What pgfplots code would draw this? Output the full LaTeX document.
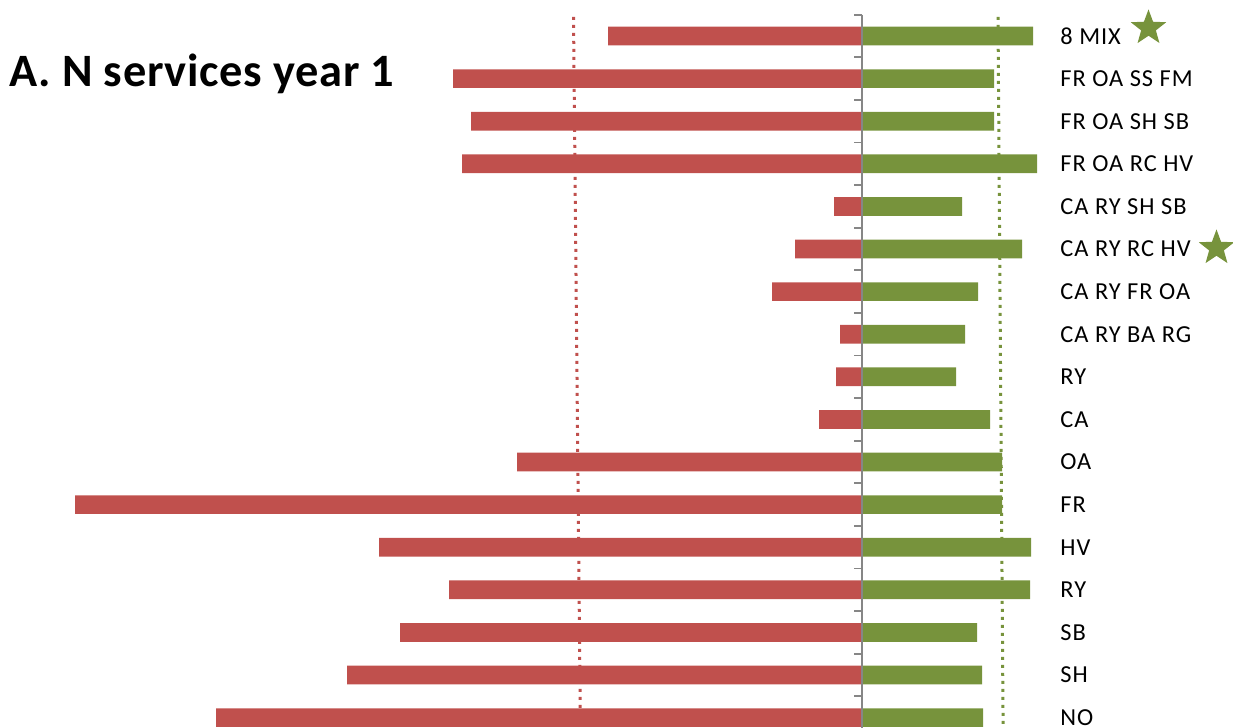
\documentclass[border=0pt]{standalone}
\usepackage{pgfplots}
\pgfplotsset{compat=1.18}
\usepackage{fontspec}
\setmainfont{Carlito}
\newfontfamily\labfont[LetterSpace=4]{Carlito}
\newfontfamily\titfont[LetterSpace=1.5]{Carlito}
\usetikzlibrary{shapes.geometric}
\definecolor{barred}{HTML}{C0504D}
\definecolor{bargreen}{HTML}{77933C}
\definecolor{axisgray}{HTML}{868686}

\begin{document}
\begin{tikzpicture}
\begin{axis}[
  scale only axis,
  width=529pt, height=362.1pt,
  xmin=-8.62, xmax=1.96,
  ymin=0.5, ymax=17.5,
  y dir=reverse,
  axis line style={draw=none},
  xtick=\empty,
  ytick={1,...,17},
  yticklabels={8 MIX, FR OA SS FM, FR OA SH SB, FR OA RC HV, CA RY SH SB,
    CA RY RC HV, CA RY FR OA, CA RY BA RG, RY, CA, OA, FR, HV, RY, SB, SH, NO},
  yticklabel pos=right,
  major tick length=0pt,
  yticklabel style={anchor=west, inner sep=0pt, xshift=1pt,
    font=\labfont\fontsize{12.2}{14}\selectfont},
  clip=false,
]
% reference lines
\addplot[barred, line width=1.5pt, dash pattern=on 1.5pt off 2.5pt]
  coordinates {(-2.885,0.55) (-2.815,17.5)};
\addplot[bargreen, line width=1.5pt, dash pattern=on 1.5pt off 2.5pt]
  coordinates {(1.36,0.55) (1.412,17.5)};

% losses
\addplot[xbar, bar width=9.35pt, bar shift=0pt, fill=barred, draw=none] coordinates {
  (-2.54,1) (-4.09,2) (-3.91,3) (-4.00,4) (-0.28,5) (-0.67,6) (-0.90,7)
  (-0.22,8) (-0.26,9) (-0.43,10) (-3.45,11) (-7.87,12) (-4.83,13)
  (-4.13,14) (-4.62,15) (-5.15,16) (-6.46,17)};
% gains
\addplot[xbar, bar width=9.35pt, bar shift=0pt, fill=bargreen, draw=none] coordinates {
  (1.71,1) (1.32,2) (1.32,3) (1.75,4) (1.00,5) (1.60,6) (1.16,7)
  (1.03,8) (0.94,9) (1.28,10) (1.40,11) (1.40,12) (1.69,13)
  (1.68,14) (1.15,15) (1.20,16) (1.21,17)};

% centre axis and its ticks
\addplot[axisgray, line width=0.85pt] coordinates {(0,0.5) (0,17.5)};
\addplot[xcomb, axisgray, line width=0.85pt] coordinates {
  (-0.08,0.5) (-0.08,1.5) (-0.08,2.5) (-0.08,3.5) (-0.08,4.5) (-0.08,5.5)
  (-0.08,6.5) (-0.08,7.5) (-0.08,8.5) (-0.08,9.5) (-0.08,10.5) (-0.08,11.5)
  (-0.08,12.5) (-0.08,13.5) (-0.08,14.5) (-0.08,15.5) (-0.08,16.5) (-0.08,17.5)};

\node[star, star points=5, star point ratio=2.4, minimum size=18.6pt,
  inner sep=0pt, fill=bargreen] at (axis cs:2.865,0.812) {};
\node[star, star points=5, star point ratio=2.4, minimum size=18.6pt,
  inner sep=0pt, fill=bargreen] at (axis cs:3.545,5.977) {};

\node[anchor=base west, inner sep=0pt, font=\titfont\bfseries\fontsize{23.2}{27}\selectfont]
  at (axis cs:-8.53,2.19) {A. N services year 1};
\end{axis}
\pgfresetboundingbox
\path[use as bounding box] (0,5.45pt) rectangle (616.5pt,369.45pt);
\end{tikzpicture}
\end{document}
